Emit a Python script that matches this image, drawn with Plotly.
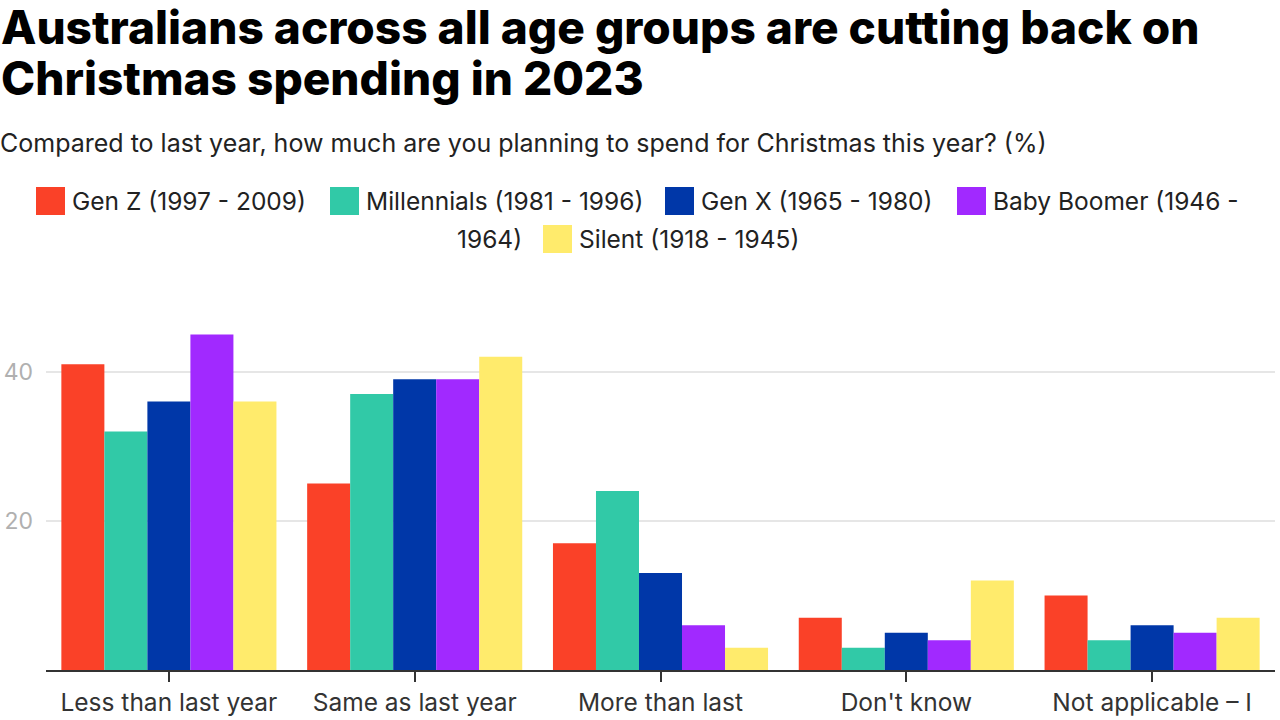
import plotly.graph_objects as go

categories = ["Less than last year", "Same as last year", "More than last", "Don't know", "Not applicable – I"]
series_names = ["Gen Z (1997 - 2009)", "Millennials (1981 - 1996)", "Gen X (1965 - 1980)",
                "Baby Boomer (1946 - 1964)", "Silent (1918 - 1945)"]
gen_z = [41, 25, 17, 7, 10]
millennials = [32, 37, 24, 3, 4]
gen_x = [36, 39, 13, 5, 6]
boomer = [45, 39, 6, 4, 5]
silent = [36, 42, 3, 12, 7]
y_ticks = [20, 40]

colors = ["#FA4128", "#31C9A7", "#0037A8", "#A129FF", "#FFEB6C"]
values = [gen_z, millennials, gen_x, boomer, silent]

FONT = "Inter"
W, H = 1280, 720
ML, MR, MT, MB = 46, 5, 327, 50
PW, PH = W - ML - MR, H - MT - MB

fig = go.Figure()
for name, vals, col in zip(series_names, values, colors):
    fig.add_trace(go.Bar(x=categories, y=vals, name=name, marker=dict(color=col, line=dict(width=0)),
                         showlegend=False))

fig.update_layout(
    width=W, height=H,
    barmode="group", bargap=0.125, bargroupgap=0,
    plot_bgcolor="white", paper_bgcolor="white",
    margin=dict(l=ML, r=MR, t=MT, b=MB, autoexpand=False),
    font=dict(family=FONT, color="#222"),
    xaxis=dict(showgrid=False, showline=True, linecolor="#333", linewidth=2,
               ticks="outside", ticklen=10, tickwidth=2, tickcolor="#333",
               tickfont=dict(size=24.5, color="#333", family=FONT)),
    yaxis=dict(range=[0, 46], tickvals=y_ticks, showgrid=True, gridcolor="#e6e6e6", gridwidth=1.5,
               zeroline=False, showline=False, ticks="",
               tickfont=dict(size=23, color="#b0b0b0", family=FONT), ticklabelstandoff=12),
)


def px_x(px):
    return (px - ML) / PW


def px_y(py):
    return (H - MB - py) / PH


# Title (two lines) and subtitle
title_lines = ["Australians across all age groups are cutting back on", "Christmas spending in 2023"]
for line, cy in zip(title_lines, [27, 78]):
    fig.add_annotation(text=line, xref="paper", yref="paper", x=px_x(-1), y=px_y(cy),
                       xanchor="left", yanchor="middle", showarrow=False,
                       font=dict(size=46, color="#000", family=FONT, weight=800))
fig.add_annotation(text="Compared to last year, how much are you planning to spend for Christmas this year? (%)",
                   xref="paper", yref="paper", x=px_x(-2), y=px_y(143),
                   xanchor="left", yanchor="middle", showarrow=False,
                   font=dict(size=25, color="#222", family=FONT))

# Manual wrapped legend
LEG_SIZE = 24.5
legend_items = [
    (36, 201, series_names[0], 0),
    (330, 201, series_names[1], 1),
    (665, 201, series_names[2], 2),
    (957, 201, "Baby Boomer (1946 -", 3),
    (543, 239, series_names[4], 4),
]
for sx, cy, label, ci in legend_items:
    fig.add_shape(type="rect", xref="paper", yref="paper",
                  x0=px_x(sx), x1=px_x(sx + 29), y0=px_y(cy - 14), y1=px_y(cy + 14),
                  fillcolor=colors[ci], line=dict(width=0))
    fig.add_annotation(text=label, xref="paper", yref="paper", x=px_x(sx + 34), y=px_y(cy),
                       xanchor="left", yanchor="middle", showarrow=False,
                       font=dict(size=LEG_SIZE, color="#222", family=FONT))
fig.add_annotation(text="1964)", xref="paper", yref="paper", x=px_x(524), y=px_y(239),
                   xanchor="right", yanchor="middle", showarrow=False,
                   font=dict(size=LEG_SIZE, color="#222", family=FONT))

fig.write_html("out.html", config={"displayModeBar": False},
               post_script="document.body.style.margin='0';")
